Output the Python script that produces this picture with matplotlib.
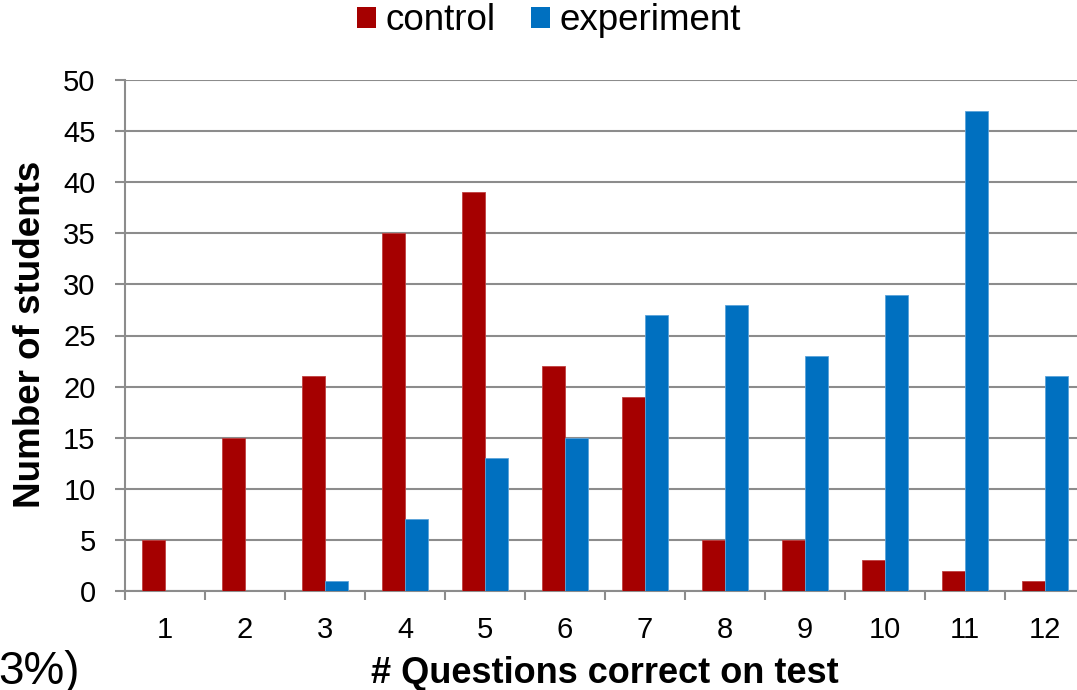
import matplotlib.pyplot as plt
import numpy as np
from matplotlib.patches import Patch

plt.rcParams['font.family'] = ['Liberation Sans', 'DejaVu Sans']

# Score distribution for the two groups
questions = [1, 2, 3, 4, 5, 6, 7, 8, 9, 10, 11, 12]
control = [5, 15, 21, 35, 39, 22, 19, 5, 5, 3, 2, 1]
experiment = [0, 0, 1, 7, 13, 15, 27, 28, 23, 29, 47, 21]

red = '#A50000'
blue = '#0070C0'
grid_gray = '#8C8C8C'

fig = plt.figure(figsize=(10.77, 6.90), dpi=100)
ax = fig.add_axes([125 / 1077, 99 / 690, 960 / 1077, 511 / 690])

x = np.arange(len(questions))
bw = 0.29
ax.bar(x - bw / 2, control, width=bw, color=red, edgecolor='#C04040', linewidth=0.6, zorder=3)
ax.bar(x + bw / 2, experiment, width=bw, color=blue, edgecolor='#5BA3DA', linewidth=0.6, zorder=3)

ax.set_xlim(-0.5, len(questions) - 0.5)
ax.set_ylim(0, 50)
ax.set_yticks(range(0, 51, 5))
ax.yaxis.grid(True, color=grid_gray, linewidth=1.5, zorder=0)
ax.set_axisbelow(True)

# category labels at centers, tick marks on the boundaries
ax.set_xticks(x)
ax.set_xticklabels([str(q) for q in questions])
ax.set_xticks(np.arange(-0.5, len(questions), 1), minor=True)
ax.tick_params(axis='x', which='major', length=0, labelsize=21, pad=18)
ax.tick_params(axis='x', which='minor', length=6.5, width=1.5, color=grid_gray, direction='out')
ax.tick_params(axis='y', length=7.2, width=1.5, color=grid_gray, labelsize=21, pad=14)

for side in ['top', 'right']:
    ax.spines[side].set_visible(False)
for side in ['left', 'bottom']:
    ax.spines[side].set_color(grid_gray)
    ax.spines[side].set_linewidth(1.5)

fig.text(31 / 1077, 356 / 690, 'Number of students', fontsize=26.5, fontweight='bold',
         rotation=90, ha='center', va='center')
fig.text(605 / 1077, 7 / 690, '# Questions correct on test', fontsize=26,
         fontweight='bold', ha='center', va='baseline')

handles = [Patch(facecolor=red, label='control'), Patch(facecolor=blue, label='experiment')]
fig.legend(handles=handles, loc='center', bbox_to_anchor=(549 / 1077, 1 - 21 / 690), ncol=2,
           frameon=False, fontsize=26.5, handlelength=0.51, handleheight=0.5,
           handletextpad=0.27, columnspacing=0.95, borderpad=0, borderaxespad=0)

fig.text(80 / 1077, 6 / 690, '3%)', fontsize=33, ha='right', va='baseline')

fig.savefig('out.png', dpi=100)
